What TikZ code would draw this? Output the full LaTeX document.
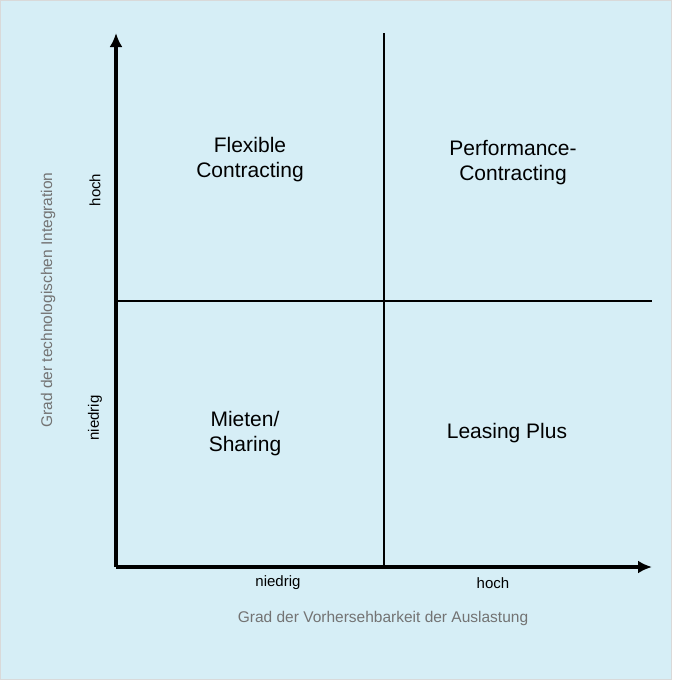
\documentclass[tikz,border=0pt]{standalone}
\usepackage{fontspec}
\setmainfont{Liberation Sans}
\usetikzlibrary{arrows.meta}
\begin{document}
\begin{tikzpicture}[x=1pt,y=-1pt,
  big/.style={font=\fontsize{21}{25}\selectfont,align=center},
  small/.style={font=\fontsize{15}{18}\selectfont},
  title/.style={font=\fontsize{15.5}{18}\selectfont,text=black!55}]
\fill[fill={rgb,255:red,214;green,238;blue,246},draw=black!15] (0.5,0.5) rectangle (671.5,679.5);
\useasboundingbox (0,0) rectangle (672,680);
\coordinate (O) at (116,567);
\coordinate (Ytop) at (116,33);
\coordinate (Xend) at (652,567);
\coordinate (Mt) at (384,33);
\coordinate (Mb) at (384,567);
\coordinate (Hl) at (116,301);
\coordinate (Hr) at (652,301);
\draw[line width=2.5pt] (Mt) -- (Mb);
\draw[line width=2.5pt] (Hl) -- (Hr);
\draw[line width=4pt,-{Latex[length=14pt,width=13pt]}] (O) -- (Xend);
\draw[line width=4pt,-{Latex[length=14pt,width=13pt]}] (O) -- (Ytop);
\node[big] (fc) at (250,160) {Flexible\\Contracting};
\node[big] (pc) at (513,163) {Performance-\\Contracting};
\node[big] (ms) at (245,434) {Mieten/\\Sharing};
\node[big] (lp) at (507,433) {Leasing Plus};
\node[small] (xn) at (278,583) {niedrig};
\node[small] (xh) at (493,583) {hoch};
\node[title] (xt) at (383,618) {Grad der Vorhersehbarkeit der Auslastung};
\node[small,rotate=90] (yh) at (95,190) {hoch};
\node[small,rotate=90] (yn) at (95,418) {niedrig};
\node[title,rotate=90] (yt) at (48,300) {Grad der technologischen Integration};
\end{tikzpicture}
\end{document}
